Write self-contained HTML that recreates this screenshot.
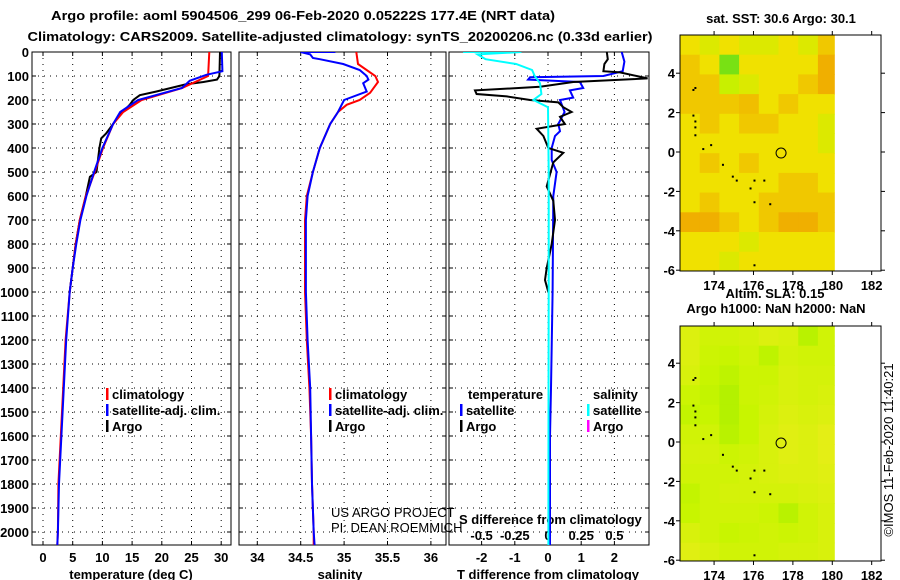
<!DOCTYPE html>
<html><head><meta charset="utf-8"><style>
body{margin:0;background:#fff;}
svg{display:block;font-family:"Liberation Sans",sans-serif;}
text{font-weight:bold;font-size:13px;fill:#000;}
text.thin{font-weight:normal;}
</style></head><body>
<svg id="c" width="900" height="580" viewBox="0 0 900 580">
<text x="303" y="20" text-anchor="middle" font-size="15" textLength="504" lengthAdjust="spacingAndGlyphs">Argo profile: aoml 5904506_299 06-Feb-2020 0.05222S 177.4E (NRT data)</text>
<text x="340" y="41" text-anchor="middle" font-size="15" textLength="625" lengthAdjust="spacingAndGlyphs">Climatology: CARS2009. Satellite-adjusted climatology: synTS_20200206.nc (0.33d earlier)</text>
<g id="g"></g>
</svg>
<script>
// ---------- data ----------
const depthTicks=[0,100,200,300,400,500,600,700,800,900,1000,1100,1200,1300,1400,1500,1600,1700,1800,1900,2000];
const tempTicks=[0,5,10,15,20,25,30];
const salTicks=[34,34.5,35,35.5,36];
const tdiffTicks=[-2,-1,0,1,2];
const sdiffTicks=[-0.5,-0.25,0,0.25,0.5];
const climDepth=[0,100,150,200,250,300,400,500,600,700,800,900,1000,1200,1400,1600,1800,2000,2055];
const climTemp=[28,27.8,23.4,16.6,13.5,11.8,10.1,8.7,7.2,6.2,5.5,5.0,4.5,3.8,3.4,3.0,2.6,2.5,2.4];
const satDepth=[0,80,95,120,150,200,250,300,400,500,600,700,800,900,1000,1200,1400,1600,1800,2000,2055];
const satTemp=[30.1,30.2,27.5,24.7,23.4,16.0,13.0,11.8,10.0,8.6,7.3,6.3,5.6,5.0,4.5,3.9,3.5,3.1,2.7,2.5,2.4];
const argoDepth=[0,100,115,125,135,165,180,200,220,260,300,340,360,400,500,520,600,700,800,900,1000];
const argoTemp=[29.8,29.7,29.3,27,24,19,16.3,15.2,14.6,13,11.8,10.6,9.8,9.5,9.0,7.9,7.2,6.2,5.5,5.0,4.5];
const climSalDepth=[0,50,100,125,170,200,220,250,300,400,500,600,700,1000,1200,1400,1600,1800,2000,2055];
const climSal=[35.14,35.16,35.36,35.39,35.3,35.18,35.03,34.93,34.84,34.72,34.64,34.57,34.55,34.55,34.57,34.6,34.62,34.63,34.65,34.65];
const satSalDepth=[0,0,10,25,30,50,75,100,115,130,165,200,250,300,400,500,600,700,1000,1200,1400,1600,1800,2000,2055];
const satSal=[34.9,34.5,34.61,34.64,34.72,34.99,35.18,35.26,35.28,35.22,35.26,35.0,34.93,34.84,34.72,34.64,34.58,34.56,34.56,34.58,34.61,34.62,34.63,34.65,34.66];
const tSatDepth=[0,40,80,100,105,115,125,150,160,190,200,250,300,330,350,400,450,500,600,1000,1400,1600,2000,2055];
const tSatDiff=[2.22,2.3,2.25,1.67,-0.54,-0.6,0.96,1.06,0.66,0.76,0.36,0.5,0.31,0.36,0.21,0.11,0.11,0.26,0.16,0.14,0.09,0.06,0.06,0.06];
const tArgoDepth=[0,30,50,80,85,110,125,145,160,175,185,200,210,230,250,270,300,320,350,400,420,460,560,620,700,800,900,950,1000];
const tArgoDiff=[1.77,1.8,1.7,1.67,2.17,3.0,0.76,-0.24,-2.2,-2.15,-1.24,-0.54,0.31,0.46,0.71,0.36,0.51,-0.34,-0.14,0.01,0.46,0.16,-0.04,0.16,0.21,0.11,-0.04,-0.09,0.01];
const sSatDepth=[0,0,10,30,50,75,100,130,175,200,230,500,1000,1500,2000,2055];
const sSatDiff=[-0.64,-0.2,-0.53,-0.47,-0.24,-0.12,-0.1,-0.06,-0.05,-0.11,0,0.005,0.005,0.004,0.003,0.003];
const lonTicks=[174,176,178,180,182];
const latTicks=[-6,-4,-2,0,2,4];
const sstGrid=[
[2,1.5,2,1.5,1.5,2,1.5,2.5],
[2.5,2,0.5,2,2,2,2,3],
[2.5,2.5,1,1.5,2,2,2.5,3],
[2.5,2.5,2.5,2.7,2,2.5,2,2],
[2,2.5,2,2.5,2.5,2,2,1.5],
[2,2,2,2,2,2,2,1.5],
[2,2.5,2,2.5,2,2,2,2],
[2,2,2,2,2,2.5,2.5,2],
[2,2.5,2,2,2.5,2.5,2.5,2.5],
[3,3,2.5,2,2.5,3,3,2.5],
[2,2,2,1.5,2,2,2,2],
[2,2,1.5,2,2,2,2,2]];
const slaGrid=[
[1.5,1.2,1.2,1.3,1.5,1.4,0.7,1.2],
[1.5,1.1,1.0,1.2,0.8,1.3,1.2,1.2],
[1.4,1.0,0.8,1.1,1.1,1.4,1.3,1.3],
[1.1,0.9,0.6,1.1,1.2,1.4,1.3,1.4],
[0.9,1.0,0.6,1.0,1.3,1.5,1.4,1.5],
[1.2,1.2,0.7,1.0,1.4,1.6,1.5,1.7],
[1.3,1.3,1.1,1.2,1.4,1.6,1.5,1.7],
[1.2,1.2,1.2,1.3,1.4,1.5,1.5,1.6],
[0.9,1.2,1.3,1.3,1.3,1.3,1.4,1.5],
[1.0,1.2,1.2,1.2,1.1,0.7,1.2,1.4],
[1.4,1.2,1.0,1.1,1.2,1.1,1.2,1.4],
[1.6,1.4,1.2,1.2,1.2,1.3,1.3,1.4]];
const coastPts=[[172.9,3.2],[173.0,3.3],[172.9,1.9],[173.0,1.6],[173.0,1.3],[173.0,0.9],[173.4,0.2],[173.8,0.4],[174.4,-0.6],[174.9,-1.2],[175.1,-1.4],[175.8,-1.8],[176.0,-1.4],[176.5,-1.4],[176.0,-2.5],[176.8,-2.6],[176.0,-5.7]];
const argoLon=177.4, argoLat=-0.052;

// ---------- helpers ----------
const NS="http://www.w3.org/2000/svg";
const G=document.getElementById('g');
function mk(tag,attrs,parent){const e=document.createElementNS(NS,tag);for(const k in attrs)e.setAttribute(k,attrs[k]);(parent||G).appendChild(e);return e;}
function txt(x,y,s,anchor,parent,size){const t=mk('text',{x:x,y:y,'text-anchor':anchor||'start'},parent);if(size)t.setAttribute('font-size',size);t.textContent=s;return t;}
const yTop=52, yBot=545, yScale=0.24;
const yD=d=>yTop+d*yScale;
const xT=t=>43+t*5.94;
const xS=s=>257.3+(s-34)*86.8;
const xTd=v=>548+v*33.2;
const xSd=v=>548+v*132.8;
const panels=[[32,231],[239,446],[449,649]];

panels.forEach((p,i)=>{
  const r=mk('rect',{x:p[0],y:yTop,width:p[1]-p[0],height:yBot-yTop,fill:'none',stroke:'#000','stroke-width':1});
  
  
  depthTicks.forEach(d=>{
    const l=mk('line',{x1:p[0],x2:p[1],y1:yD(d),y2:yD(d),stroke:'#000','stroke-width':1,'stroke-dasharray':'1,5'});
    
    
    mk('line',{x1:p[0],x2:p[0]+4,y1:yD(d),y2:yD(d),stroke:'#000'});
    mk('line',{x1:p[1]-4,x2:p[1],y1:yD(d),y2:yD(d),stroke:'#000'});
  });
});
depthTicks.forEach(d=>{
  const t=txt(29,yD(d)+5,String(d),'end');
  
  
});
function vgrid(ticks,fx,p,labels,ly){
  ticks.forEach(v=>{
    const x=fx(v);
    const l=mk('line',{x1:x,x2:x,y1:yTop,y2:yBot,stroke:'#000','stroke-dasharray':'1,5'});
    
    
    mk('line',{x1:x,x2:x,y1:yTop,y2:yTop+4,stroke:'#000'});
    mk('line',{x1:x,x2:x,y1:yBot-4,y2:yBot,stroke:'#000'});
    if(labels){const t=txt(x,ly,String(v),'middle');
      
      }
  });
}
vgrid(tempTicks,xT,panels[0],true,562);
vgrid(salTicks,xS,panels[1],true,562);
vgrid(tdiffTicks,xTd,panels[2],true,562);
sdiffTicks.forEach(v=>{const t=txt(xSd(v),540,String(v),'middle');
  
  });
let t;
t=txt(131,579,'temperature (deg C)','middle');
t=txt(340,579,'salinity','middle');
t=txt(548,579,'T difference from climatology','middle');
t=txt(459,524,'S difference from climatology','start');

function clipPanel(id,p){const cp=mk('clipPath',{id:id});mk('rect',{x:p[0],y:yTop,width:p[1]-p[0],height:yBot-yTop},cp);}
clipPanel('c1',panels[0]);clipPanel('c2',panels[1]);clipPanel('c3',panels[2]);
function line(depths,vals,fx,color,clip,name){
  const pts=depths.map((d,i)=>fx(vals[i]).toFixed(1)+','+yD(d).toFixed(1)).join(' ');
  const pl=mk('polyline',{points:pts,fill:'none',stroke:color,'stroke-width':2,'clip-path':'url(#'+clip+')'});
  
  
}
line(argoDepth,argoTemp,xT,'#000','c1','argo-temperature-line');
line(climDepth,climTemp,xT,'#f00','c1','climatology-temperature-line');
line(satDepth,satTemp,xT,'#00f','c1','satellite-temperature-line');
line(climSalDepth,climSal,xS,'#f00','c2','climatology-salinity-line');
line(satSalDepth,satSal,xS,'#00f','c2','satellite-salinity-line');
line(tSatDepth,tSatDiff,xTd,'#00f','c3','satellite-tdiff-line');
line(tArgoDepth,tArgoDiff,xTd,'#000','c3','argo-tdiff-line');
line(sSatDepth,sSatDiff,xSd,'#0ff','c3','satellite-sdiff-line');

function legend(x,y,color,label,name){
  mk('rect',{x:x,y:y-11,width:2.5,height:12,fill:color});
  const t=txt(x+6,y,label,'start');
  
  
}
legend(106,399,'#f00','climatology','legend-climatology-1');
legend(106,415,'#00f','satellite-adj. clim.','legend-satellite-1');
legend(106,431,'#000','Argo','legend-argo-1');
legend(329,399,'#f00','climatology','legend-climatology-2');
legend(329,415,'#00f','satellite-adj. clim.','legend-satellite-2');
legend(329,431,'#000','Argo','legend-argo-2');
t=txt(468,399,'temperature','start');
t=txt(593,399,'salinity','start');
legend(460,415,'#00f','satellite','legend-t-satellite');
legend(460,431,'#000','Argo','legend-t-argo');
legend(587,415,'#0ff','satellite','legend-s-satellite');
legend(587,431,'#f0f','Argo','legend-s-argo');
t=txt(331,517,'US ARGO PROJECT','start');t.setAttribute('class','thin');t.setAttribute('font-size','12');
t=txt(331,532,'PI: DEAN ROEMMICH','start');t.setAttribute('class','thin');t.setAttribute('font-size','12');

// ---------- maps ----------
const mapL=680, mapR=881, lonPx=19.7, lon0=172.27;
const xLon=l=>mapL+(l-lon0)*lonPx;
function lerp(a,b,f){return a.map((v,i)=>Math.round(v+(b[i]-v)*f));}
function ramp(stops,v){const i=Math.max(0,Math.min(stops.length-2,Math.floor(v)));const f=Math.max(0,Math.min(1,v-i));const c=lerp(stops[i],stops[i+1],f);return 'rgb('+c.join(',')+')';}
const sstStops=[[40,210,40],[200,240,0],[240,225,0],[240,175,0],[224,128,0]];
const slaStops=[[150,235,0],[200,245,0],[240,235,30]];
function map(top,bot,lat0y,grid,stops,name){
  const yLat=l=>lat0y-l*19.7;
  const latTop=(lat0y-top)/19.7;
  grid.forEach((row,r)=>row.forEach((v,c)=>{
    const la=latTop-r, lo=lon0+c;
    const x=xLon(lo), y=yLat(la);
    const w=Math.min(lonPx, xLon(180.1)-x);
    const h=Math.min(19.7, bot-y);
    const cell=mk('rect',{x:x.toFixed(1),y:y.toFixed(1),width:(w+0.5).toFixed(1),height:(h+0.5).toFixed(1),fill:ramp(stops,v)});
    
    
  }));
  coastPts.forEach(p=>{const d=mk('rect',{x:xLon(p[0]),y:yLat(p[1]),width:2,height:2,fill:'#000'});
    });
  const ci=mk('circle',{cx:xLon(argoLon),cy:yLat(argoLat),r:5,fill:'none',stroke:'#000','stroke-width':1});
  
  
  const fr=mk('rect',{x:mapL,y:top,width:mapR-mapL,height:bot-top,fill:'none',stroke:'#000'});
  
  lonTicks.forEach(l=>{const x=xLon(l);mk('line',{x1:x,x2:x,y1:bot,y2:bot+4,stroke:'#000'});mk('line',{x1:x,x2:x,y1:top-4,y2:top,stroke:'#000'});
    const tt=txt(x,bot+19,String(l),'middle');});
  latTicks.forEach(l=>{const y=yLat(l);mk('line',{x1:mapL-4,x2:mapL,y1:y,y2:y,stroke:'#000'});mk('line',{x1:mapR,x2:mapR+4,y1:y,y2:y,stroke:'#000'});
    const tt=txt(mapL-5,y+5,String(l),'end');});
}
map(35,271,152,sstGrid,sstStops,'sst-map');
map(326,561,442,slaGrid,slaStops,'sla-map');
t=txt(781,23,'sat. SST: 30.6 Argo: 30.1','middle');
t=txt(775,298,'Altim. SLA: 0.15','middle');
t=txt(776,313,'Argo h1000: NaN h2000: NaN','middle');
t=mk('text',{x:0,y:0,'text-anchor':'middle',transform:'translate(893,450) rotate(-90)','font-size':'13','class':'thin'});
t.textContent='©IMOS 11-Feb-2020 11:40:21';


</script>
</body></html>
